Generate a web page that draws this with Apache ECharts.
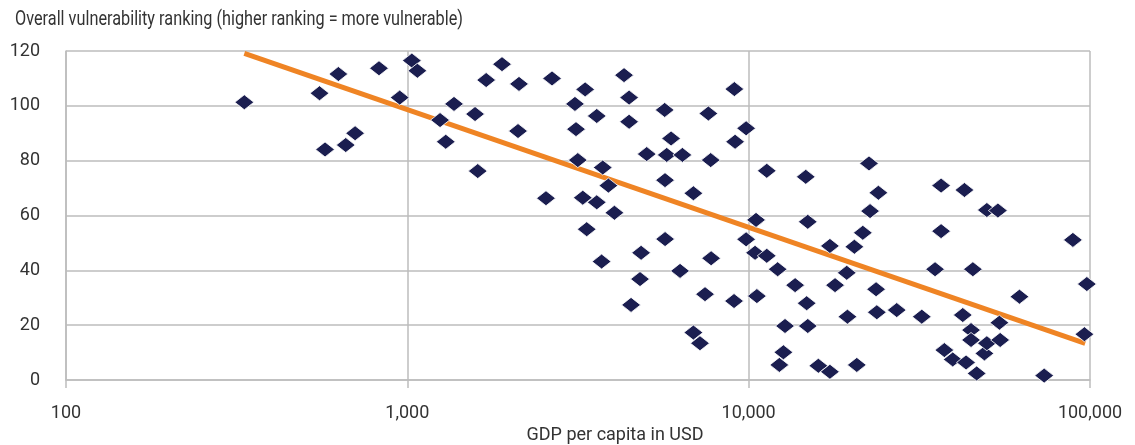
<!DOCTYPE html>
<html>
<head>
<meta charset="utf-8">
<title>Vulnerability vs GDP</title>
<script src="https://cdn.jsdelivr.net/npm/echarts@6/dist/echarts.min.js"></script>
<style>
  html, body { margin: 0; padding: 0; background: #fff; }
  #chart { width: 1135px; height: 445px; }
</style>
</head>
<body>
<div id="chart"></div>
<script>
// GDP per capita (USD), one entry per country
const gdp = [
  333, 553, 574, 628, 660, 703, 826, 950,
  1031, 1070, 1247, 1296, 1370, 1579, 1608, 1702, 1894, 2124, 2110,
  2548, 2654, 3098, 3120, 3158, 3318, 3266, 3354, 3589, 3589, 3737,
  3708, 3882, 4043, 4314, 4464, 4464, 4523, 4805, 4840, 5027, 5675,
  5688, 5690, 5754, 5925, 6295, 6395, 6887, 6887, 7200, 7450, 7620,
  7740, 7762, 9060, 9080, 9125, 9830, 9830,
  10440, 10510, 10570, 11300, 11300, 12160, 12300, 12640, 12780, 13680,
  14700, 14790, 14900, 14900, 16000, 17300, 17300, 17910, 19380, 19470,
  20400, 20740, 21600, 22520, 22680, 23620, 23740, 23990, 27150, 32150,
  35160, 36620, 36620, 37440, 39620, 42390, 42870, 43340, 44820, 44820,
  45380, 46560, 49050, 49870, 49870, 53730, 54270, 54550, 62130, 73400,
  89100, 96300, 97900
];
// Overall vulnerability ranking, same order as gdp
const ranking = [
  101.3, 104.6, 84.1, 111.6, 85.7, 90, 113.7, 103,
  116.5, 112.8, 94.8, 86.9, 100.7, 97, 76.2, 109.4, 115.2, 108, 90.8,
  66.3, 110, 100.7, 91.5, 80.2, 106, 66.5, 55, 96.3, 64.8, 77.5,
  43.2, 70.9, 61, 111.2, 103, 94.2, 27.4, 36.8, 46.4, 82.4, 98.5,
  72.9, 51.4, 82.1, 88.1, 39.8, 82.1, 68.1, 17.3, 13.4, 31.3, 97.2,
  80.2, 44.4, 28.8, 106.1, 86.9, 91.8, 51.3,
  46.4, 58.4, 30.6, 76.3, 45.3, 40.4, 5.5, 10.1, 19.7, 34.6,
  74.1, 28, 57.7, 19.7, 5.2, 48.9, 3, 34.6, 39.1, 23.1,
  48.6, 5.5, 53.7, 79, 61.6, 33.1, 24.7, 68.3, 25.5, 23.1,
  40.4, 70.9, 54.3, 10.9, 7.5, 23.7, 69.3, 6.4, 18.2, 14.6,
  40.4, 2.4, 9.7, 13.4, 62, 61.8, 20.9, 14.6, 30.4, 1.6,
  51.1, 16.7, 35
];
// logarithmic trend line end points
const trendGdp = [333, 96800];
const trendRank = [119.1, 13.4];

const yTicks = [0, 20, 40, 60, 80, 100, 120];

const fontFamily = "Roboto, sans-serif";
const textColor = '#333333';
const gridColor = '#bdbdbd';

const chart = echarts.init(document.getElementById('chart'));

const points = gdp.map(function (g, i) { return [g, ranking[i]]; });
const trend = trendGdp.map(function (g, i) { return [g, trendRank[i]]; });

// no condensed font installed: squeeze the title to the reference width
const titleText = 'Overall vulnerability ranking (higher ranking = more vulnerable)';
const titleFont = '21px Roboto, sans-serif';
const titleWidth = echarts.format.getTextRect
  ? echarts.format.getTextRect(titleText, titleFont).width
  : 600;
const titleScale = 448 / titleWidth;

chart.setOption({
  animation: false,
  graphic: [{
    type: 'text',
    left: 15,
    top: 9,
    scaleX: titleScale,
    style: {
      text: titleText,
      font: titleFont,
      fill: textColor
    }
  }],
  grid: {
    left: 66,
    right: 45,
    top: 51,
    bottom: 65,
    outerBoundsMode: 'none'
  },
  xAxis: {
    type: 'log',
    logBase: 10,
    min: 100,
    max: 100000,
    name: 'GDP per capita in USD',
    nameLocation: 'middle',
    nameGap: 42,
    nameTextStyle: {
      fontFamily: fontFamily,
      fontSize: 18,
      color: textColor,
      padding: [0, 0, 0, 74]
    },
    axisLine: { show: true, lineStyle: { color: gridColor, width: 1.5 } },
    axisTick: { show: true, length: 8, lineStyle: { color: gridColor, width: 1.5 } },
    splitLine: { show: true, lineStyle: { color: gridColor, width: 1.5 } },
    minorTick: { show: false },
    axisLabel: {
      margin: 24,
      fontFamily: fontFamily,
      fontSize: 18,
      color: textColor,
      formatter: function (v) { return Math.round(v).toLocaleString('en-US'); }
    }
  },
  yAxis: {
    type: 'value',
    min: yTicks[0],
    max: yTicks[yTicks.length - 1],
    interval: 20,
    axisLine: { show: true, lineStyle: { color: gridColor, width: 1.5 } },
    axisTick: { show: false },
    splitLine: { show: true, lineStyle: { color: gridColor, width: 1.5 } },
    axisLabel: {
      margin: 26,
      fontFamily: fontFamily,
      fontSize: 18,
      color: textColor
    }
  },
  series: [
    {
      name: 'trend',
      type: 'line',
      data: trend,
      symbol: 'none',
      z: 1,
      lineStyle: { color: '#ef8424', width: 5 }
    },
    {
      name: 'countries',
      type: 'scatter',
      data: points,
      symbol: 'diamond',
      symbolSize: [19, 15],
      z: 2,
      itemStyle: {
        color: '#1b1e50',
        borderColor: '#ffffff',
        borderWidth: 0.8,
        opacity: 1
      }
    }
  ]
});
</script>
</body>
</html>
